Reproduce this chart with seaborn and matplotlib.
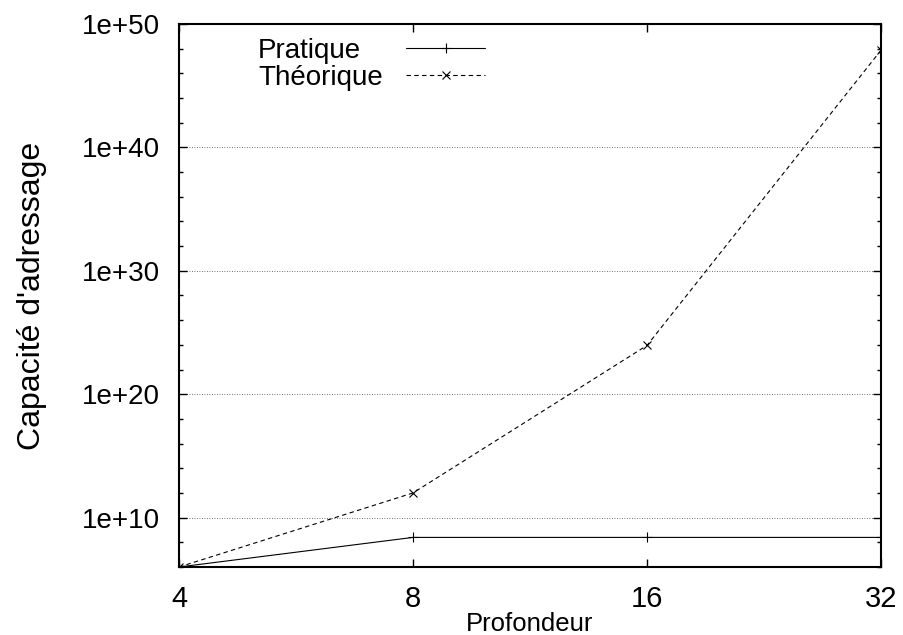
import numpy as np
import seaborn as sns
import matplotlib
matplotlib.use("Agg")
import matplotlib.pyplot as plt
from matplotlib.ticker import FixedLocator, FixedFormatter, NullFormatter

profondeur = [4, 8, 16, 32]
pratique = [1e6, 2.5e8, 2.5e8, 2.5e8]
theorique = [1e6, 1e12, 9e23, 7.5e47]
xticks = [4, 8, 16, 32]
yticks = [1e10, 1e20, 1e30, 1e40, 1e50]
ytick_labels = ["1e+10", "1e+20", "1e+30", "1e+40", "1e+50"]

sns.set_style("ticks")
plt.rcParams['font.family'] = ['Liberation Sans', 'DejaVu Sans']
plt.rcParams['text.color'] = 'black'
plt.rcParams['axes.labelcolor'] = 'black'

fig = plt.figure(figsize=(9.04, 6.35), dpi=100)
ax = fig.add_axes([179/904, 1-567/635, (881-179)/904, (567-24)/635])

sns.lineplot(x=profondeur, y=pratique, ax=ax, color='black', lw=0.8,
             marker='+', markersize=7, markeredgewidth=0.8,
             markeredgecolor='black', label='Pratique')
sns.lineplot(x=profondeur, y=theorique, ax=ax, color='black', lw=0.8,
             linestyle=(0, (4, 3)), marker='x', markersize=6, markeredgewidth=0.8,
             markeredgecolor='black', label='Théorique')

ax.set_xscale('log', base=2)
ax.set_yscale('log')
ax.set_xlim(4, 32)
ax.set_ylim(1e6, 1e50)

ax.xaxis.set_major_locator(FixedLocator(xticks))
ax.xaxis.set_major_formatter(FixedFormatter([str(v) for v in xticks]))
ax.xaxis.set_minor_locator(FixedLocator([]))
ax.yaxis.set_major_locator(FixedLocator(yticks))
ax.yaxis.set_major_formatter(FixedFormatter(ytick_labels))
ax.yaxis.set_minor_locator(FixedLocator([10.0**e for e in range(6, 51, 2) if e % 10]))
ax.yaxis.set_minor_formatter(NullFormatter())

ax.grid(axis='y', which='major', color='#444444', linestyle=(0, (1, 2)), lw=0.6)
ax.tick_params(which='both', direction='in', top=True, right=True, color='black',
               labelcolor='black')
ax.tick_params(which='major', length=6, width=1)
ax.tick_params(which='minor', length=3, width=1)
ax.tick_params(axis='x', labelsize=21, pad=13)
ax.tick_params(axis='y', labelsize=20, pad=14)
for s in ax.spines.values():
    s.set_linewidth(1.5)
    s.set_color('black')

ax.set_xlabel('Profondeur', fontsize=18.5, labelpad=-1)
ax.set_ylabel("Capacité d'adressage", fontsize=23, labelpad=25)

leg = ax.legend(loc='upper left', bbox_to_anchor=(0.085, 1.01), frameon=False,
                markerfirst=False, fontsize=20, handlelength=2.85,
                handletextpad=0.83, labelspacing=0.02, borderaxespad=0.3)

# gnuplot key: texts left-aligned, samples right-aligned
r = fig.canvas.get_renderer()
widths = [t.get_window_extent(r).width for t in leg.get_texts()]
rows = leg._legend_handle_box.get_children()[0].get_children()
for row, w in zip(rows, widths):
    row.sep += (max(widths) - w) * 72 / fig.dpi

fig.savefig('out.png', dpi=100)
